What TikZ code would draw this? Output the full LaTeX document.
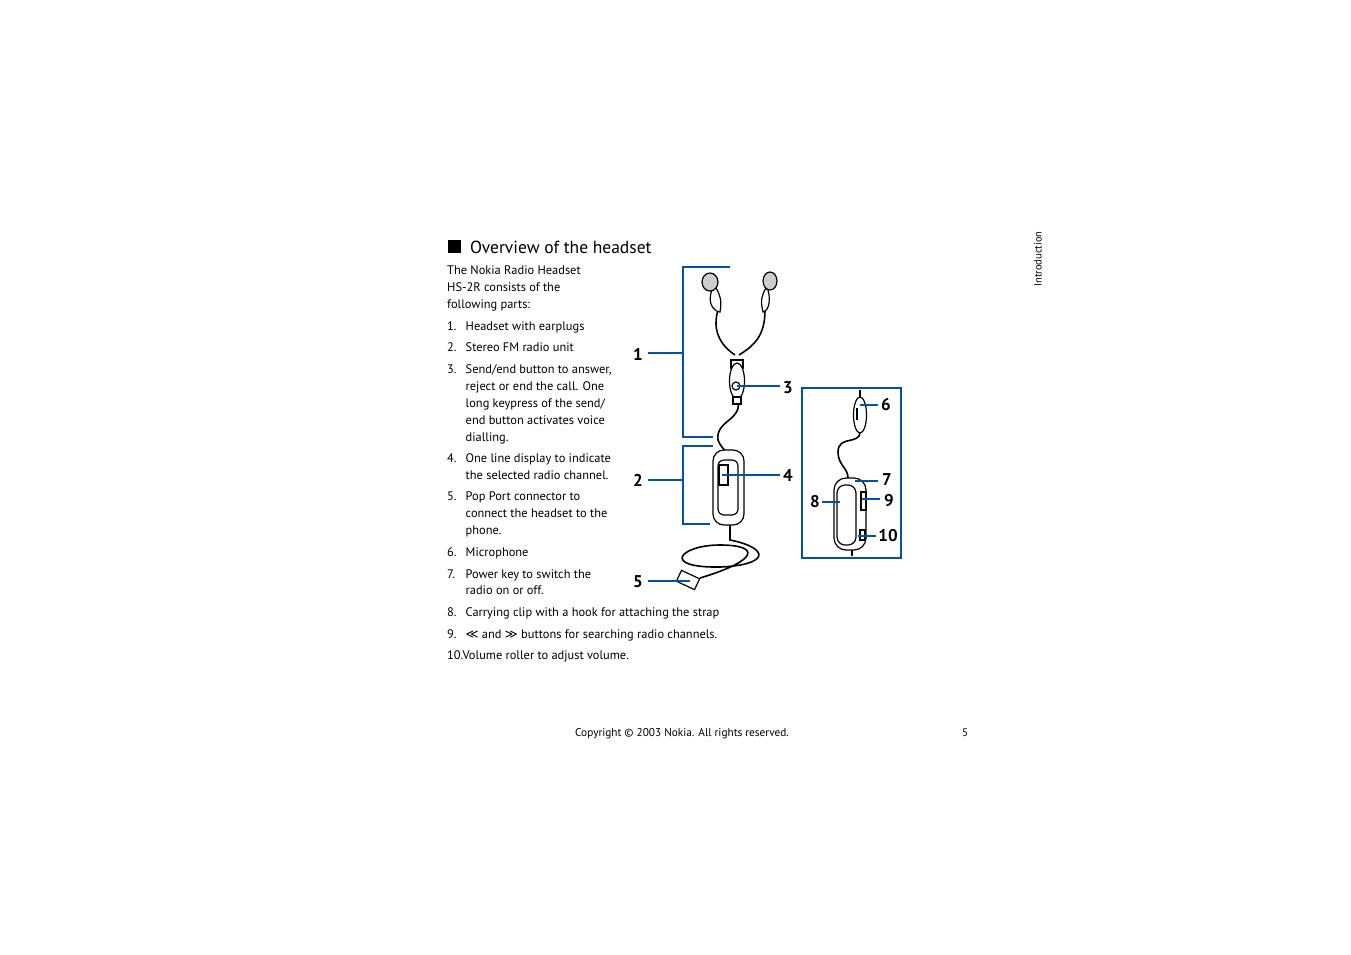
\documentclass[tikz,border=0pt]{standalone}
\usepackage{fontspec}
\setmainfont{PT Sans}
\newfontfamily\symf{DejaVu Sans}
\definecolor{nblue}{RGB}{0,84,160}
\begin{document}
\begin{tikzpicture}[x=1pt,y=-1pt,
  txt/.style={anchor=base west,inner sep=0,font=\fontsize{12.4}{14}\selectfont},
  lab/.style={inner sep=0,font=\fontsize{17}{17}\selectfont\bfseries},
  bl/.style={nblue,line width=2pt},
  art/.style={black,line width=1.2pt,fill=white},
  cord/.style={black,line width=1.6pt}]
\useasboundingbox (0,0) rectangle (1351,954);
% title
\fill (448,240) rectangle (461,253);
\node[anchor=base west,inner sep=0,font=\fontsize{17.5}{17}\selectfont] (title) at (470,253) {Overview of the headset};
% text
\foreach \y/\t in {274/The Nokia Radio Headset,291/HS-2R consists of the,308/following parts:}
  \node[txt] at (447,\y) {\t};
\foreach \y/\n/\t in {330/1./Headset with earplugs,351/2./Stereo FM radio unit,373/3./{Send/end button to answer,},462/4./One line display to indicate,500/5./Pop Port connector to,556/6./Microphone,578/7./Power key to switch the,616/8./Carrying clip with a hook for attaching the strap}
  {\node[txt] at (447,\y) {\n}; \node[txt] at (465.5,\y) {\t};}
\foreach \y/\t in {390/reject or end the call. One,407/{long keypress of the send/},424/end button activates voice,441/dialling.,479/the selected radio channel.,517/connect the headset to the,534/phone.,594/radio on or off.}
  \node[txt] at (465.5,\y) {\t};
\node[txt] at (447,638) {9.};
\node[txt] at (465.5,638) {{\symf≪} and {\symf≫} buttons for searching radio channels.};
\node[txt] at (447,659) {10.Volume roller to adjust volume.};
% footer
\node[anchor=base,inner sep=0,font=\fontsize{11.3}{12}\selectfont] (copy) at (682,736) {Copyright © 2003 Nokia. All rights reserved.};
\node[anchor=base,inner sep=0,font=\fontsize{11}{12}\selectfont] (pg) at (965,736) {5};
\node[rotate=90,inner sep=0,font=\fontsize{10.5}{12}\selectfont] (intro) at (1038,259) {Introduction};
% ---- headset art
\draw[cord] (718,310) .. controls (712,330) and (720,345) .. (735,355);
\draw[cord] (765,310) .. controls (765,335) and (755,345) .. (739,355);
\draw[cord] (737,398) .. controls (745,420) and (715,420) .. (718,440) .. controls (722,450) and (727,450) .. (727,455);
\draw[cord] (730,522) -- (730,540) .. controls (770,548) and (770,565) .. (720,567) .. controls (660,568) and (680,545) .. (720,545) .. controls (760,545) and (760,560) .. (700,578);
\draw[art] (712,290) .. controls (706,305) and (716,312) .. (720,312) .. controls (722,300) and (720,295) .. (716,288) -- cycle;
\draw[art,fill=gray!40] (710,282) ellipse (8 and 9);
\draw[art] (768,290) .. controls (772,305) and (766,312) .. (763,312) .. controls (760,300) and (762,295) .. (766,288) -- cycle;
\draw[art,fill=gray!40] (770,281) ellipse (7 and 9);
\draw[art] (731,360) rectangle (743,368);
\draw[art] (737,381) ellipse (7.5 and 18);
\draw[art] (733,397) rectangle (741,404);
\draw[art] (736,386) circle (4);
\draw[art,rounded corners=11] (713,450) rectangle (744,525);
\draw[art,rounded corners=6] (718,460) rectangle (738,515);
\draw[art] (719,465) rectangle (728,485);
\draw[art,rotate around={-25:(688,580)}] (678,574) rectangle (698,586);
% right detail
\draw[cord] (860,390) -- (860,398);
\draw[cord] (860,432) .. controls (860,445) and (838,435) .. (838,452) .. controls (838,465) and (848,468) .. (848,478);
\draw[cord] (852,548) -- (852,556);
\draw[art] (860,415) ellipse (6.5 and 18);
\draw[art] (857,408) -- (857,420);
\draw[art,rounded corners=12] (834,478) rectangle (866,550);
\draw[art,rounded corners=8] (837,485) rectangle (856,545);
\draw[art] (861,492) rectangle (866,510);
\draw[art] (860,530) rectangle (865,540);
% ---- blue callouts
\draw[bl] (730,267) -- (683,267) -- (683,437) -- (713,437);
\draw[bl] (648,353) -- (683,353);
\draw[bl] (713,446) -- (683,446) -- (683,524) -- (710,524);
\draw[bl] (648,480) -- (683,480);
\draw[bl] (737,386) -- (780,386);
\draw[bl] (722,475) -- (780,475);
\draw[bl] (648,581) -- (690,581);
\draw[bl] (802,388) rectangle (901,558);
\draw[bl] (860,405) -- (878,405);
\draw[bl] (855,481) -- (878,481);
\draw[bl] (822,502) -- (840,502);
\draw[bl] (862,499) -- (880,499);
\draw[bl] (858,536) -- (876,536);
\node[lab] (l1) at (638,354) {1};
\node[lab] (l2) at (638,480) {2};
\node[lab] (l3) at (788,388) {3};
\node[lab] (l4) at (788,475) {4};
\node[lab] (l5) at (638,582) {5};
\node[lab] (l6) at (886,405) {6};
\node[lab] (l7) at (887,480) {7};
\node[lab] (l8) at (815,502) {8};
\node[lab] (l9) at (889,501) {9};
\node[lab] (l10) at (888,536) {10};
\end{tikzpicture}
\end{document}
